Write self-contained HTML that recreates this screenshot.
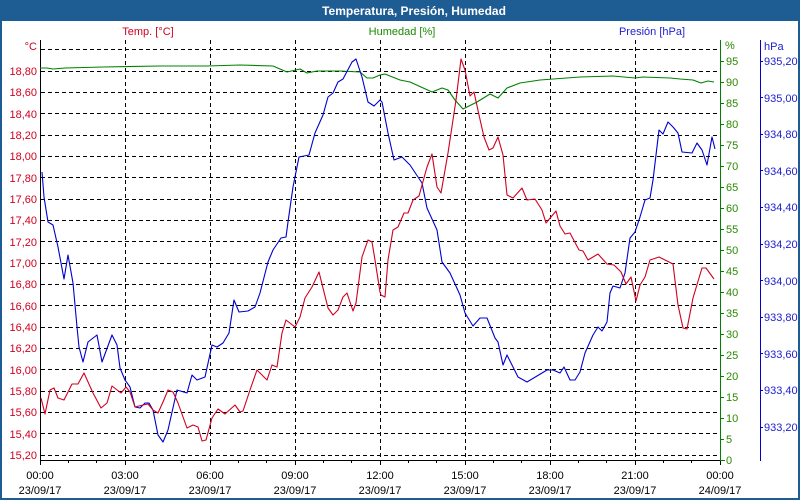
<!DOCTYPE html>
<html><head><meta charset="utf-8"><style>
html,body{margin:0;padding:0;background:#fff;}
svg{display:block;font-family:"Liberation Sans",sans-serif;font-size:11px;}
</style></head><body>
<svg width="800" height="500" viewBox="0 0 800 500" xmlns="http://www.w3.org/2000/svg">
<rect x="0" y="0" width="800" height="500" fill="#fff"/>
<rect x="0" y="0" width="800" height="21" fill="#1e5c94"/>
<rect x="0" y="0" width="2" height="500" fill="#1e5c94"/>
<rect x="798" y="0" width="2" height="500" fill="#1e5c94"/>
<rect x="0" y="498" width="800" height="2" fill="#1e5c94"/>
<text x="414" y="15" fill="#fff" font-weight="bold" font-size="12" text-anchor="middle">Temperatura, Presión, Humedad</text>
<text x="148" y="35" fill="#d00020" text-anchor="middle">Temp. [°C]</text>
<text x="402" y="35" fill="#1a8a00" text-anchor="middle">Humedad [%]</text>
<text x="652" y="35" fill="#2020d0" text-anchor="middle">Presión [hPa]</text>
<g stroke="#000" stroke-width="1" stroke-dasharray="4,3" fill="none" shape-rendering="crispEdges">
<path d="M41 455.5H720M41 433.5H720M41 412.5H720M41 391.5H720M41 369.5H720M41 348.5H720M41 327.5H720M41 305.5H720M41 284.5H720M41 263.5H720M41 241.5H720M41 220.5H720M41 199.5H720M41 177.5H720M41 156.5H720M41 135.5H720M41 113.5H720M41 92.5H720M41 71.5H720M41 49.5H720"/>
<path d="M125.5 40V460M210.5 40V460M295.5 40V460M380.5 40V460M465.5 40V460M550.5 40V460M635.5 40V460"/>
</g>
<g stroke="#000" shape-rendering="crispEdges">
<path d="M40.5 40V461M40 460.5H721M40.5 460V465M125.5 460V465M210.5 460V465M295.5 460V465M380.5 460V465M465.5 460V465M550.5 460V465M635.5 460V465M720.5 460V465"/>
<path d="M68.5 460V463M96.5 460V463M153.5 460V463M181.5 460V463M238.5 460V463M266.5 460V463M323.5 460V463M351.5 460V463M408.5 460V463M436.5 460V463M493.5 460V463M521.5 460V463M578.5 460V463M606.5 460V463M663.5 460V463M691.5 460V463"/>
</g>
<g stroke="#008000" shape-rendering="crispEdges">
<path d="M720.5 40V461M720 460.5H725M720 439.5H724M720 418.5H724M720 397.5H724M720 376.5H724M720 355.5H724M720 334.5H724M720 313.5H724M720 292.5H724M720 271.5H724M720 250.5H724M720 229.5H724M720 208.5H724M720 187.5H724M720 166.5H724M720 145.5H724M720 124.5H724M720 103.5H724M720 82.5H724M720 61.5H724"/>
</g>
<g stroke="#0000d0" shape-rendering="crispEdges">
<path d="M760.5 40V461M760 61.5H763M760 97.5H763M760 134.5H763M760 170.5H763M760 207.5H763M760 244.5H763M760 280.5H763M760 317.5H763M760 353.5H763M760 390.5H763M760 427.5H763"/>
</g>
<g fill="#d00020" text-anchor="end">
<text x="37" y="50">°C</text>
<text x="37" y="75">18,80</text><text x="37" y="96">18,60</text><text x="37" y="118">18,40</text><text x="37" y="139">18,20</text><text x="37" y="160">18,00</text><text x="37" y="182">17,80</text><text x="37" y="203">17,60</text><text x="37" y="224">17,40</text><text x="37" y="246">17,20</text><text x="37" y="267">17,00</text><text x="37" y="288">16,80</text><text x="37" y="310">16,60</text><text x="37" y="331">16,40</text><text x="37" y="352">16,20</text><text x="37" y="374">16,00</text><text x="37" y="395">15,80</text><text x="37" y="416">15,60</text><text x="37" y="438">15,40</text><text x="37" y="459">15,20</text>
</g>
<g fill="#2a8a00">
<text x="725" y="49">%</text>
<text x="726" y="65">95</text><text x="726" y="86">90</text><text x="726" y="107">85</text><text x="726" y="128">80</text><text x="726" y="149">75</text><text x="726" y="170">70</text><text x="726" y="191">65</text><text x="726" y="212">60</text><text x="726" y="233">55</text><text x="726" y="254">50</text><text x="726" y="275">45</text><text x="726" y="296">40</text><text x="726" y="317">35</text><text x="726" y="338">30</text><text x="726" y="359">25</text><text x="726" y="380">20</text><text x="726" y="401">15</text><text x="726" y="422">10</text><text x="726" y="443">5</text><text x="726" y="464">0</text>
</g>
<g fill="#2020d0">
<text x="764" y="50">hPa</text>
<text x="764" y="65">935,20</text><text x="764" y="102">935,00</text><text x="764" y="138">934,80</text><text x="764" y="175">934,60</text><text x="764" y="211">934,40</text><text x="764" y="248">934,20</text><text x="764" y="285">934,00</text><text x="764" y="321">933,80</text><text x="764" y="358">933,60</text><text x="764" y="394">933,40</text><text x="764" y="431">933,20</text>
</g>
<g fill="#000" text-anchor="middle">
<text x="40" y="479">00:00</text><text x="125" y="479">03:00</text><text x="210" y="479">06:00</text><text x="295" y="479">09:00</text><text x="380" y="479">12:00</text><text x="465" y="479">15:00</text><text x="550" y="479">18:00</text><text x="635" y="479">21:00</text><text x="720" y="479">00:00</text>
<text x="40" y="494">23/09/17</text><text x="125" y="494">23/09/17</text><text x="210" y="494">23/09/17</text><text x="295" y="494">23/09/17</text><text x="380" y="494">23/09/17</text><text x="465" y="494">23/09/17</text><text x="550" y="494">23/09/17</text><text x="635" y="494">23/09/17</text><text x="720" y="494">24/09/17</text>
</g>
<g fill="none" stroke-width="1.1" stroke-linejoin="round">
<polyline stroke="#008000" points="40,68 47,68 53,69 65,68 103,67 160,66 207,66 240,65 273,66 280,69 287,72 300,69 307,73 317,71 340,71 360,72 367,78 373,78 380,75 385,74 400,80 410,82 432,92 442,88 448,90 455,100 463,109 477,102 490,94 498,98 507,88 520,83 540,80 580,77 613,76 635,78 643,77 670,78 680,79 693,80 701,83 708,81 714,82"/>
<polyline stroke="#0000d0" points="42,172 44,197 48,222 53,225 58,247 64,279 68,255 73,283 77,327 79,347 83,362 88,342 97,335 102,362 112,335 117,345 120,368 125,380 130,387 135,407 140,408 145,403 149,403 153,410 158,435 163,442 168,430 177,390 187,393 192,375 197,380 205,377 212,345 217,347 223,343 229,333 234,300 239,312 248,311 255,307 260,293 268,262 273,250 281,238 286,237 288,222 293,187 299,157 309,155 315,133 323,115 328,97 333,93 338,82 343,79 352,62 356,59 362,77 368,102 374,106 380,100 382,102 388,133 394,160 402,157 410,165 422,183 427,208 437,230 442,262 450,273 460,295 465,313 473,326 480,318 487,318 495,338 498,342 503,365 507,355 518,377 527,382 537,376 547,370 553,370 560,373 564,367 570,380 575,380 580,372 585,353 593,335 598,327 602,331 607,322 610,293 613,286 620,288 625,273 630,238 635,232 640,217 645,200 650,198 653,180 659,130 663,134 668,122 673,127 678,133 682,152 692,153 697,143 702,150 707,165 712,137 715,149"/>
<polyline stroke="#d00020" points="41,398 45,414 50,390 54,388 58,398 64,400 72,384 78,384 84,373 93,393 101,408 107,403 112,386 121,393 126,387 130,392 135,407 143,405 148,404 153,410 158,413 163,402 168,390 173,392 178,403 187,428 193,425 198,427 202,441 206,440 212,418 218,409 225,414 235,405 240,412 243,411 250,390 257,370 267,380 272,365 277,367 282,333 286,320 295,327 300,317 305,298 312,287 319,272 328,308 333,315 338,310 343,297 347,293 353,311 356,303 362,257 368,240 372,242 375,260 380,292 381,295 385,297 388,260 393,230 398,227 404,213 408,213 413,200 419,196 427,167 432,154 437,187 441,193 448,153 456,100 461,59 465,70 470,96 474,92 479,115 484,137 489,150 493,148 498,137 503,155 507,195 513,198 522,188 527,200 535,199 542,210 546,223 556,211 560,226 565,234 570,233 579,250 583,251 588,260 598,254 607,264 614,265 621,272 626,284 631,277 636,301 640,285 645,277 650,260 659,257 673,264 678,305 683,328 687,329 693,298 702,268 706,268 714,279"/>
</g>
</svg>
</body></html>
